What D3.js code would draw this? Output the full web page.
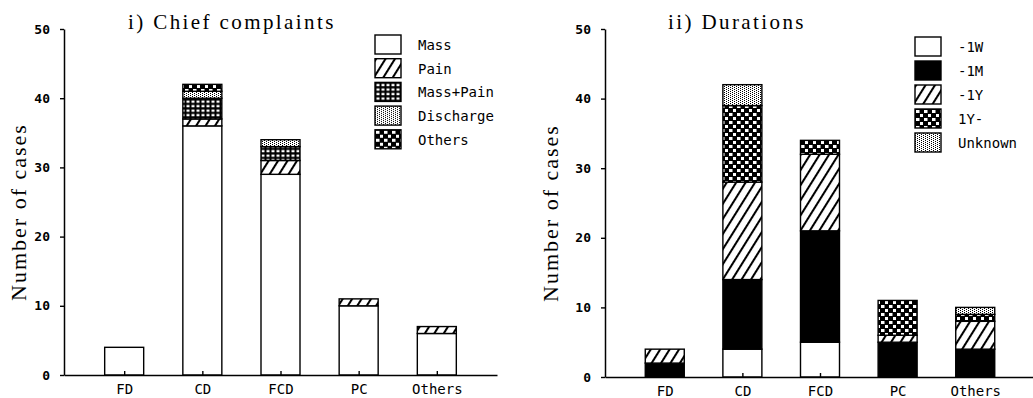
<!DOCTYPE html>
<html>
<head>
<meta charset="utf-8">
<script src="https://cdn.jsdelivr.net/npm/d3@7"></script>
<style>
  html, body { margin: 0; padding: 0; background: #fff; }
  svg { display: block; }
  .tick text, .axis-lab { font-family: "DejaVu Sans Mono", monospace; }
</style>
</head>
<body>
<svg id="chart" width="1033" height="398"></svg>
<script>
// ---- data ----
const categories = ["FD", "CD", "FCD", "PC", "Others"];
const yTicks = [0, 10, 20, 30, 40, 50];

// i) Chief complaints
const complaintKeys = ["Mass", "Pain", "Mass+Pain", "Discharge", "Others"];
const mass            = [4, 36, 29, 10, 6];
const pain            = [0, 1, 2, 1, 1];
const massPain        = [0, 3, 2, 0, 0];
const discharge       = [0, 1, 1, 0, 0];
const otherComplaints = [0, 1, 0, 0, 0];

// ii) Durations
const durationKeys = ["-1W", "-1M", "-1Y", "1Y-", "Unknown"];
const dur1W      = [0, 4, 5, 0, 0];
const dur1M      = [2, 10, 16, 5, 4];
const dur1Y      = [2, 14, 11, 1, 4];
const dur1YPlus  = [0, 11, 2, 5, 1];
const durUnknown = [0, 3, 0, 0, 1];

const svg = d3.select("#chart");
const defs = svg.append("defs");

// ---- fill patterns ----
// diagonal hatch
const hatch = defs.append("pattern").attr("id", "hatch")
  .attr("patternUnits", "userSpaceOnUse").attr("width", 8).attr("height", 8)
  .attr("patternTransform", "rotate(32)");
hatch.append("rect").attr("width", 8).attr("height", 8).attr("fill", "#fff");
hatch.append("line").attr("x1", 1).attr("y1", 0).attr("x2", 1).attr("y2", 8)
  .attr("stroke", "#000").attr("stroke-width", 2.1);

// fine grid (black with small white squares)
const grid = defs.append("pattern").attr("id", "grid")
  .attr("patternUnits", "userSpaceOnUse").attr("width", 5).attr("height", 4.5);
grid.append("rect").attr("width", 5).attr("height", 4.5).attr("fill", "#000");
grid.append("rect").attr("x", 1.5).attr("y", 1.5).attr("width", 3).attr("height", 2.3).attr("fill", "#fff");

// stipple (staggered single dots)
const dots = defs.append("pattern").attr("id", "dots")
  .attr("patternUnits", "userSpaceOnUse").attr("width", 4).attr("height", 2);
dots.append("rect").attr("width", 4).attr("height", 2).attr("fill", "#fff");
dots.append("rect").attr("x", 0).attr("y", 0).attr("width", 1).attr("height", 1).attr("fill", "#000");
dots.append("rect").attr("x", 2).attr("y", 1).attr("width", 1).attr("height", 1).attr("fill", "#000");

// staggered checker (black with white squares)
const checker = defs.append("pattern").attr("id", "checker")
  .attr("patternUnits", "userSpaceOnUse").attr("width", 8).attr("height", 8);
checker.append("rect").attr("width", 8).attr("height", 8).attr("fill", "#000");
checker.append("rect").attr("x", 1).attr("y", 1).attr("width", 3.5).attr("height", 3).attr("fill", "#fff");
checker.append("rect").attr("x", 5).attr("y", 5).attr("width", 3.5).attr("height", 3).attr("fill", "#fff");

const complaintFills = ["#fff", "url(#hatch)", "url(#grid)", "url(#dots)", "url(#checker)"];
const durationFills  = ["#fff", "#000", "url(#hatch)", "url(#checker)", "url(#dots)"];

function rows(keys, series) {
  return categories.map((c, i) => {
    const r = { cat: c };
    keys.forEach((k, j) => { r[k] = series[j][i]; });
    return r;
  });
}

function panel(cfg) {
  const g = svg.append("g");
  const x = d3.scalePoint().domain(categories).range([cfg.x0, cfg.x1]).padding(0.77);
  const y = d3.scaleLinear().domain([0, 50]).range([cfg.yBottom, cfg.yTop]);
  const barW = 39;

  const stack = d3.stack().keys(cfg.keys)(rows(cfg.keys, cfg.series));
  stack.forEach((layer, li) => {
    g.append("g").selectAll("rect")
      .data(layer.filter(d => d[1] > d[0]))
      .join("rect")
      .attr("x", d => x(d.data.cat) - barW / 2)
      .attr("y", d => y(d[1]))
      .attr("width", barW)
      .attr("height", d => y(d[0]) - y(d[1]))
      .attr("fill", cfg.fills[li])
      .attr("stroke", "#000")
      .attr("stroke-width", 1.4);
  });

  // axes
  const ax = g.append("g").attr("transform", `translate(0,${cfg.yBottom})`)
    .call(d3.axisBottom(x).tickSize(-4).tickSizeOuter(0).tickPadding(9));
  ax.select(".domain").attr("stroke-width", 1.5);
  ax.selectAll(".tick line").attr("stroke-width", 1.4);
  ax.selectAll(".tick text").attr("font-size", 14).attr("fill", "#000");

  const ay = g.append("g").attr("transform", `translate(${cfg.x0},0)`)
    .call(d3.axisLeft(y).tickValues(yTicks).tickSize(4).tickSizeOuter(0).tickPadding(10));
  ay.select(".domain").attr("stroke-width", 1.5);
  ay.selectAll(".tick line").attr("stroke-width", 1.4);
  ay.selectAll(".tick text").attr("font-size", 13).attr("font-weight", "bold").attr("fill", "#000");

  // titles
  g.append("text").attr("x", cfg.titleX).attr("y", 29)
    .attr("font-family", "Liberation Serif, serif").attr("font-size", 21)
    .attr("letter-spacing", 2.4).text(cfg.title);

  g.append("text")
    .attr("transform", `translate(${cfg.labelX},${(cfg.yBottom + cfg.yTop) / 2 + 10}) rotate(-90)`)
    .attr("text-anchor", "middle")
    .attr("font-family", "Liberation Serif, serif").attr("font-size", 22)
    .attr("letter-spacing", 2).text("Number of cases");

  // legend
  const lg = g.append("g").attr("transform", `translate(${cfg.legX},${cfg.legY})`);
  const item = lg.selectAll("g").data(cfg.keys).join("g")
    .attr("transform", (d, i) => `translate(0,${i * cfg.legStep})`);
  item.append("rect").attr("width", 26).attr("height", 19)
    .attr("fill", (d, i) => cfg.fills[i]).attr("stroke", "#000").attr("stroke-width", 1.4);
  item.append("text").attr("class", "axis-lab").attr("x", 43).attr("y", 15)
    .attr("font-size", 14).text(d => d);
}

panel({
  title: "i) Chief complaints", titleX: 128, labelX: 26,
  keys: complaintKeys, fills: complaintFills,
  series: [mass, pain, massPain, discharge, otherComplaints],
  x0: 64, x1: 497, yBottom: 375, yTop: 29,
  legX: 375, legY: 35, legStep: 23.7
});

panel({
  title: "ii) Durations", titleX: 668, labelX: 558,
  keys: durationKeys, fills: durationFills,
  series: [dur1W, dur1M, dur1Y, dur1YPlus, durUnknown],
  x0: 605, x1: 1035, yBottom: 377, yTop: 29,
  legX: 915, legY: 37, legStep: 24
});
</script>
</body>
</html>
